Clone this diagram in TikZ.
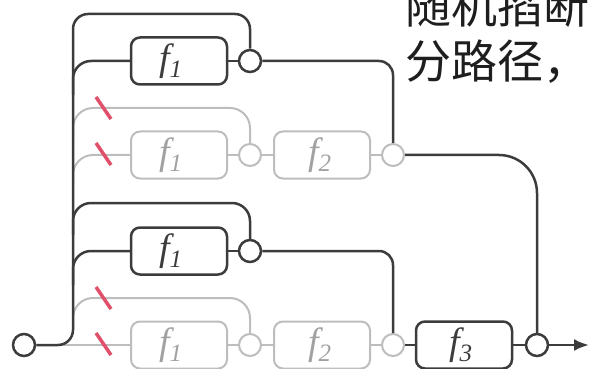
\documentclass[tikz,border=0pt]{standalone}
\usepackage{fontspec}
\newfontfamily\cjk{Noto Sans CJK SC}
\newfontfamily\tms{Liberation Serif}
\usetikzlibrary{arrows.meta}
\definecolor{dkc}{HTML}{3C3C3C}
\definecolor{ltc}{HTML}{BDBDBD}
\definecolor{cutc}{HTML}{E0506A}
\definecolor{txc}{HTML}{1E1E1E}
\newcommand\flab[1]{{\itshape f}\kern-1pt\raisebox{-0.18em}{\fontsize{25}{25}\selectfont\itshape #1}}
\tikzset{
  dk/.style={draw=dkc, line width=2.5pt},
  lt/.style={draw=ltc, line width=2pt},
  fbox/.style={rounded corners=9pt, minimum width=96pt, minimum height=47pt, inner sep=0pt, font=\tms\fontsize{38}{38}\selectfont},
  dkbox/.style={fbox, draw=dkc, line width=2.5pt, text=dkc},
  ltbox/.style={fbox, draw=ltc, line width=2pt, text=ltc!85!black},
  junc/.style={circle, minimum size=22pt, inner sep=0pt, fill=white},
  dkjunc/.style={junc, draw=dkc, line width=2.5pt},
  ltjunc/.style={junc, draw=ltc, line width=2pt},
  cut/.style={draw=cutc, line width=3.5pt},
  cjktext/.style={anchor=base west, inner sep=0pt, text=txc, font=\cjk\fontsize{46}{46}\selectfont},
}
\begin{document}
\begin{tikzpicture}[x=1pt,y=-1pt]
\useasboundingbox (0,0) rectangle (590,369);
\clip (0,0) rectangle (590,369);
% text
\node[cjktext] (t1) at (405,24) {随机掐断};
\node[cjktext] (t2) at (405,79) {分路径，};
% nodes
\node[dkjunc] (s) at (24,345) {};
\node[dkbox] (b1) at (179,61) {\flab{1}\kern16pt};
\node[dkjunc] (j1) at (250,61) {};
\node[ltbox] (gb1) at (179,155) {\flab{1}\kern16pt};
\node[ltjunc] (g1) at (250,155) {};
\node[ltbox] (gf2) at (322,155) {\flab{2}\kern4pt};
\node[ltjunc] (g2) at (393,155) {};
\node[dkbox] (b3) at (179,251) {\flab{1}\kern16pt};
\node[dkjunc] (j3) at (250,251) {};
\node[ltbox] (gb3) at (179,345) {\flab{1}\kern16pt};
\node[ltjunc] (g3) at (250,345) {};
\node[ltbox] (gf4) at (322,345) {\flab{2}\kern4pt};
\node[ltjunc] (g4) at (393,345) {};
\node[dkbox] (f3) at (464,345) {\flab{3}\kern6pt};
\node[dkjunc] (jf) at (537,345) {};
\coordinate (out) at (589,345);
% gray paths
\draw[lt, rounded corners=20pt] (73,140) |- (250,108) -- (g1.north);
\draw[lt, rounded corners=20pt] (73,185) |- (gb1.west);
\draw[lt] (gb1) -- (g1) -- (gf2) -- (g2);
\draw[lt, rounded corners=20pt] (73,330) |- (250,298) -- (g3.north);
\draw[lt] (s) -- (gb3) -- (g3) -- (gf4) -- (g4);
% dark paths
\draw[dk, rounded corners=15pt] (s.east) -- (73,345) -- (73,14) -- (250,14) -- (j1.north);
\draw[dk, rounded corners=18pt] (73,95) |- (b1.west);
\draw[dk] (b1) -- (j1);
\draw[dk, rounded corners=14pt] (j1.east) -| (g2.north);
\draw[dk, rounded corners=38pt] (g2.east) -| (jf.north);
\draw[dk, rounded corners=18pt] (73,235) |- (250,203) -- (j3.north);
\draw[dk, rounded corners=18pt] (73,285) |- (b3.west);
\draw[dk] (b3) -- (j3);
\draw[dk, rounded corners=14pt] (j3.east) -| (g4.north);
\draw[dk] (g4) -- (f3);
\draw[dk] (f3) -- (jf);
\draw[dk, -{Latex[length=15pt,width=12pt]}] (jf) -- (out);
% cuts
\draw[cut] (96,97) -- (111,119);
\draw[cut] (96,143) -- (111,165);
\draw[cut] (96,287) -- (111,309);
\draw[cut] (96,333) -- (111,355);
\end{tikzpicture}
\end{document}
